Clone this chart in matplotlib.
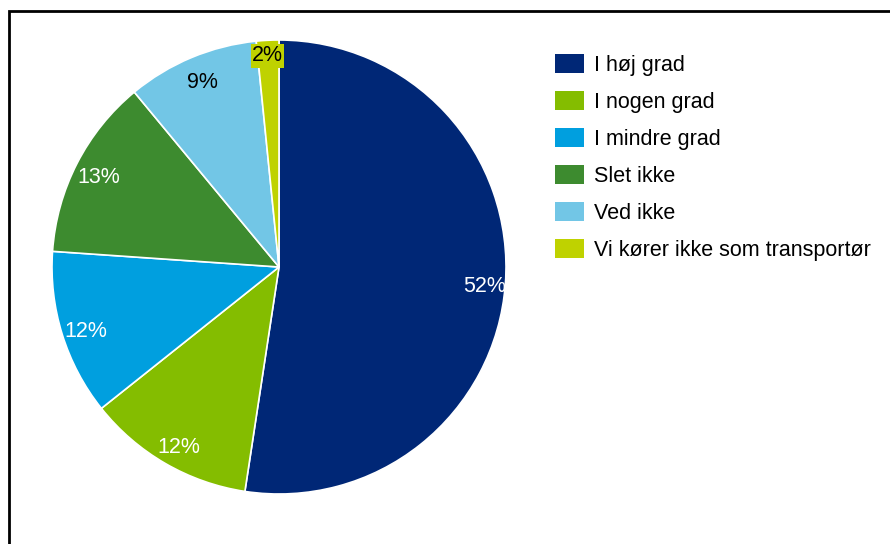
import matplotlib
matplotlib.use("Agg")
import matplotlib.pyplot as plt
from matplotlib.patches import Rectangle, Patch

plt.rcParams["font.family"] = ["Liberation Sans", "DejaVu Sans"]

categories = ["I høj grad", "I nogen grad", "I mindre grad", "Slet ikke",
              "Ved ikke", "Vi kører ikke som transportør"]
# shares; labels show the rounded values
values = [52.4, 11.9, 11.8, 12.9, 9.4, 1.6]
value_labels = ["52%", "12%", "12%", "13%", "9%", "2%"]
colors = ["#002776", "#84BD00", "#009FDF", "#3D8B2F", "#72C6E6", "#BFD200"]
label_colors = ["white", "white", "white", "white", "black", "black"]

W, H = 890, 544
fig = plt.figure(figsize=(W / 100, H / 100), dpi=100)

# outer frame (runs off the right and bottom edges)
fig.patches.append(Rectangle((9 / W, -0.05), 1.1, 0.05 + 1 - 11 / H,
                             transform=fig.transFigure, fill=False,
                             edgecolor="black", linewidth=2))

cx, cy, r = 279, 267, 227
ax = fig.add_axes([(cx - r) / W, (H - cy - r) / H, 2 * r / W, 2 * r / H])

wedges, texts = ax.pie(values, colors=colors, startangle=90, counterclock=False,
                       labels=value_labels, labeldistance=0.9,
                       wedgeprops=dict(edgecolor="white", linewidth=1.2))
for t, c in zip(texts, label_colors):
    t.set_color(c)
    t.set_fontsize(15.5)
    t.set_ha("center")
    t.set_va("center")
    x, y = t.get_position()
    t.set_position((x + 0.008, y - 0.017))
texts[-1].set_position((-0.05, 0.93))
texts[-1].set_bbox(dict(facecolor=colors[-1], edgecolor="none", pad=1.0))
ax.set_xlim(-1, 1)
ax.set_ylim(-1, 1)
ax.set_aspect("equal")

handles = [Patch(facecolor=c, edgecolor="none") for c in colors]
fig.legend(handles, categories, loc="upper left",
           bbox_to_anchor=(555 / W, 1 - 54 / H), frameon=False,
           fontsize=15.5, handlelength=1.35, handleheight=0.98,
           handletextpad=0.45, labelspacing=0.7, borderpad=0,
           borderaxespad=0)

fig.savefig("out.png", dpi=100)
